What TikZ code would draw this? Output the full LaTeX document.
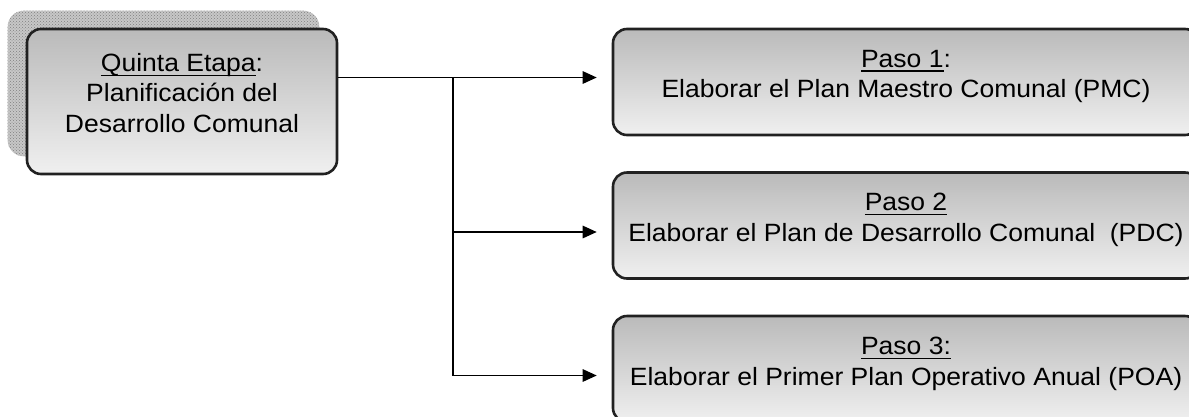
\documentclass[tikz,border=0pt]{standalone}
\usepackage{fontspec}
\setmainfont{Liberation Sans}
\newfontfamily\widesans[FakeStretch=1.06]{Liberation Sans}
\usetikzlibrary{arrows.meta,patterns,calc,backgrounds}
\newcommand\ulx[1]{\leavevmode\setbox0\hbox{#1}\rlap{\rule[-4.5pt]{\wd0}{1.3pt}}\box0}
\begin{document}
\begin{tikzpicture}[x=1pt,y=-1pt,
  box/.style={draw=black!87, line width=2.6pt, rounded corners=14pt,
    top color=black!27, bottom color=black!6, inner sep=0pt},
  stepbox/.style={box, minimum width=586pt, minimum height=106pt},
  txt/.style={align=center, inner sep=0pt, font=\widesans\fontsize{25}{30.5}\selectfont},
  shadowfill/.style={rounded corners=16pt, fill=black!22},
  shadowdots/.style={rounded corners=16pt, pattern=crosshatch dots, pattern color=black!50},
  conn/.style={line width=1.3pt, -{Triangle[length=14pt,width=12.5pt]}, shorten >=15pt}
]
\useasboundingbox (0,0) rectangle (1189,416);
\clip (0,0) rectangle (1189,416);
% first stage
\node[box, minimum width=310pt, minimum height=145pt] (q) at (182,101.5) {};
\begin{scope}[on background layer]
  \fill[shadowfill] ($(q.north west)+(-18,-17)$) rectangle ($(q.south east)+(-19,-19)$);
  \fill[shadowdots] ($(q.north west)+(-18,-17)$) rectangle ($(q.south east)+(-19,-19)$);
\end{scope}
\node[txt] (qt) at ($(q.center)+(0,-8.5)$)
  {\ulx{Quinta Etapa}:\\Planificación del\\Desarrollo Comunal};
% steps
\node[stepbox] (p1) at (906,82) {};
\node[txt] (p1t) at ($(p1.center)+(0,-5.5)$)
  {\ulx{Paso 1}:\\Elaborar el Plan Maestro Comunal (PMC)};
\node[stepbox] (p2) at (906,225.5) {};
\node[txt] (p2t) at ($(p2.center)+(0,-5.5)$)
  {\ulx{Paso 2}\\Elaborar el Plan de Desarrollo Comunal\ \ (PDC)};
\node[stepbox] (p3) at (906,369) {};
\node[txt] (p3t) at ($(p3.center)+(0,-5)$)
  {\ulx{Paso 3:}\\Elaborar el Primer Plan Operativo Anual (POA)};
% connectors
\coordinate (jx) at (453,0);
\coordinate (a1) at ([yshift=4.5pt]p1.west);
\coordinate (a2) at ([yshift=-6.5pt]p2.west);
\coordinate (a3) at ([yshift=-6.5pt]p3.west);
\draw[conn] (a1 -| q.east) -- (a1);
\draw[conn] (jx |- a1) |- (a2);
\draw[conn] (jx |- a1) |- (a3);
\end{tikzpicture}
\end{document}
